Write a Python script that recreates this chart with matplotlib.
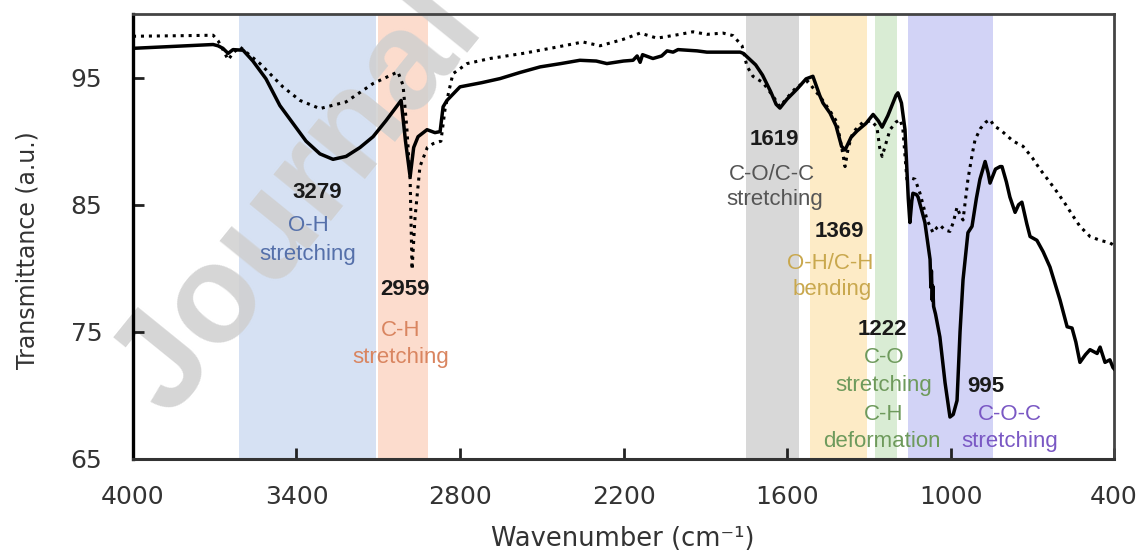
import numpy as np
import matplotlib
matplotlib.use("Agg")
import matplotlib.pyplot as plt

# ---------------- data ----------------
solid_wn = [4000, 3850, 3706, 3688, 3670, 3651, 3633, 3596, 3560, 3512, 3461, 3413, 3365, 3314,
            3266, 3218, 3167, 3119, 3072, 3016, 3000, 2983, 2970, 2954, 2921, 2892, 2873, 2862,
            2848, 2800, 2720, 2653, 2580, 2506, 2430, 2360, 2300, 2261, 2200, 2165, 2150, 2139,
            2130, 2092, 2060, 2040, 2018, 2000, 1967, 1930, 1894, 1850, 1800, 1772, 1760, 1740,
            1715, 1690, 1660, 1640, 1626, 1600, 1563, 1530, 1505, 1480, 1468, 1442, 1420, 1400,
            1387, 1365, 1343, 1310, 1284, 1265, 1251, 1230, 1200, 1193, 1180, 1167, 1155, 1149,
            1142, 1138, 1125, 1119, 1105, 1094, 1075, 1072, 1070, 1067, 1065, 1062, 1055, 1039,
            1020, 1002, 990, 976, 965, 954, 936, 921, 905, 892, 873, 862, 855, 835, 818, 811,
            795, 782, 763, 750, 738, 720, 708, 683, 660, 635, 598, 572, 554, 540, 525, 505, 488,
            462, 451, 433, 415, 404, 400]
solid_t = [97.3, 97.45, 97.6, 97.5, 97.3, 96.9, 97.2, 97.15, 96.3, 94.9, 92.8, 91.4, 90.0, 89.0,
           88.57, 88.8, 89.5, 90.35, 91.6, 93.2, 90.0, 87.2, 89.5, 90.35, 90.9, 90.67, 90.75, 92.7,
           93.2, 94.27, 94.6, 94.92, 95.4, 95.84, 96.1, 96.36, 96.3, 96.1, 96.3, 96.36, 96.7, 96.2,
           96.8, 96.5, 96.7, 97.1, 97.0, 97.2, 97.15, 97.1, 97.0, 97.0, 97.0, 97.0, 96.9, 96.5,
           96.0, 95.2, 93.9, 92.9, 92.6, 93.3, 94.1, 94.9, 95.1, 93.6, 93.0, 92.2, 91.2, 89.6,
           89.3, 90.3, 90.8, 91.4, 92.1, 91.6, 91.1, 92.0, 93.6, 93.8, 93.0, 90.9, 85.5, 83.6,
           85.3, 85.9, 85.8, 85.6, 84.5, 83.6, 80.7, 78.5, 79.8, 77.5, 78.6, 77.0, 76.4, 74.6,
           71.0, 68.3, 68.5, 69.6, 75.0, 79.1, 82.8, 83.3, 85.5, 87.0, 88.4, 87.5, 86.7, 87.8, 88.0,
           88.0, 86.8, 85.6, 84.4, 85.0, 85.2, 83.5, 82.5, 82.2, 81.3, 80.1, 77.5, 75.4, 75.3, 74.2,
           72.6, 73.2, 73.6, 73.3, 73.8, 72.6, 72.8, 72.2, 72.1]

dotted_wn = [4000, 3800, 3706, 3688, 3665, 3651, 3630, 3607, 3534, 3450, 3387, 3314, 3218, 3119,
             3028, 3009, 2995, 2983, 2976, 2965, 2947, 2920, 2899, 2884, 2870, 2855, 2840, 2826,
             2774, 2690, 2569, 2444, 2349, 2286, 2202, 2139, 2077, 1993, 1945, 1894, 1835, 1798,
             1765, 1747, 1725, 1688, 1650, 1626, 1600, 1563, 1523, 1505, 1472, 1440, 1417, 1395,
             1387, 1375, 1358, 1321, 1290, 1270, 1260, 1251, 1240, 1222, 1200, 1185, 1175, 1160,
             1145, 1130, 1112, 1086, 1064, 1050, 1039, 1020, 1002, 990, 976, 965, 954, 936, 920,
             910, 890, 870, 855, 840, 818, 807, 770, 734, 700, 672, 640, 609, 580, 550, 525, 488,
             451, 415, 400]
dotted_t = [98.25, 98.3, 98.33, 97.9, 97.0, 96.4, 97.0, 97.4, 96.1, 94.27, 93.2, 92.56, 93.09, 94.53,
            95.45, 94.4, 91.0, 87.0, 79.9, 84.0, 88.0, 89.5, 89.8, 89.9, 90.0, 92.5, 94.0, 95.3,
            96.1, 96.5, 96.9, 97.4, 97.8, 97.5, 98.0, 98.5, 98.1, 98.4, 98.6, 98.4, 98.5, 98.3,
            97.5, 95.9, 95.1, 94.6, 93.5, 92.7, 93.4, 94.3, 94.7, 94.2, 93.3, 92.3, 91.5, 89.0,
            88.0, 89.5, 90.7, 91.5, 91.6, 91.1, 89.5, 88.8, 89.6, 90.9, 91.5, 91.7, 91.0, 87.0,
            87.1, 87.0, 85.9, 83.8, 82.8, 83.2, 83.4, 83.0, 82.9, 83.6, 84.8, 84.2, 83.8, 87.0, 89.0,
            90.1, 91.0, 91.5, 91.7, 91.2, 90.9, 90.7, 90.0, 89.6, 88.7, 87.8, 86.9, 86.0, 85.1, 84.1,
            83.3, 82.5, 82.2, 82.0, 81.8]

# band ranges (cm-1) and colours
band_lo = [3110, 2917, 1556, 1306, 1196, 844]
band_hi = [3610, 3100, 1750, 1516, 1277, 1156]
band_colors = ["#d6e1f3", "#fcdccd", "#d8d8d8", "#fdebc6", "#d9ecd4", "#d2d3f6"]

# peak annotations: (text, wavenumber, transmittance, color, bold)
annotations = [
    ("3279", 3325, 86.0, "#1a1a1a", True),
    ("O-H", 3358, 83.35, "#5570aa", False),
    ("stretching", 3358, 81.1, "#5570aa", False),
    ("2959", 3002, 78.3, "#1a1a1a", True),
    ("C-H", 3017, 75.1, "#d98560", False),
    ("stretching", 3017, 73.0, "#d98560", False),
    ("1619", 1648, 90.1, "#1a1a1a", True),
    ("C-O/C-C", 1655, 87.4, "#555555", False),
    ("stretching", 1645, 85.4, "#555555", False),
    ("1369", 1406, 82.9, "#1a1a1a", True),
    ("O-H/C-H", 1442, 80.4, "#c9a84e", False),
    ("bending", 1435, 78.3, "#c9a84e", False),
    ("1222", 1251, 75.2, "#1a1a1a", True),
    ("C-O", 1245, 72.95, "#6e9a5c", False),
    ("stretching", 1245, 70.8, "#6e9a5c", False),
    ("C-H", 1245, 68.5, "#6e9a5c", False),
    ("deformation", 1251, 66.4, "#6e9a5c", False),
    ("995", 870, 70.7, "#1a1a1a", True),
    ("C-O-C", 782, 68.5, "#7a58c4", False),
    ("stretching", 782, 66.4, "#7a58c4", False),
]

x_ticks = [4000, 3400, 2800, 2200, 1600, 1000, 400]
y_ticks = [65, 75, 85, 95]

# ---------------- figure ----------------
W, H = 1143, 553
fig = plt.figure(figsize=(W / 100, H / 100), dpi=100)
ax = fig.add_axes([133 / W, 1 - 459 / H, 981 / W, 445 / H])

for lo, hi, c in zip(band_lo, band_hi, band_colors):
    ax.axvspan(lo, hi, color=c, lw=0, zorder=0)

# watermark
ax.text(170 / W, 1 - 420 / H, "Journal Pre-proof", transform=fig.transFigure,
        fontsize=100, fontweight="bold", family="Liberation Sans", color="#cfcfcf",
        alpha=0.85, rotation=51, rotation_mode="anchor", ha="left", va="baseline",
        zorder=1, clip_on=False)

ax.plot(dotted_wn, dotted_t, color="black", lw=2.2, linestyle=(0, (1, 1.6)), zorder=3)
ax.plot(solid_wn, solid_t, color="black", lw=2.5, zorder=4, solid_joinstyle="round")

for txt, x, y, c, b in annotations:
    ax.text(x, y, txt, color=c, fontsize=16, family="Liberation Sans",
            fontweight="bold" if b else "normal", ha="center", va="center", zorder=5)

ax.set_xlim(4000, 400)
ax.set_ylim(65, 100)
ax.set_xticks(x_ticks)
ax.set_yticks(y_ticks)
ax.set_xticklabels([str(v) for v in x_ticks])
ax.set_yticklabels([str(v) for v in y_ticks])

ax.tick_params(axis="both", direction="in", length=8, width=2, colors="#222222",
               labelcolor="#333333", labelsize=18)
ax.tick_params(axis="x", pad=19)
ax.tick_params(axis="y", pad=22)
for lab in ax.get_xticklabels() + ax.get_yticklabels():
    lab.set_family("DejaVu Sans")

ax.spines["left"].set_linewidth(2.4)
ax.spines["left"].set_color("black")
ax.spines["bottom"].set_linewidth(2.2)
ax.spines["bottom"].set_color("#333333")
ax.spines["top"].set_linewidth(2.0)
ax.spines["top"].set_color("#444444")
ax.spines["right"].set_linewidth(2.0)
ax.spines["right"].set_color("#444444")

ax.set_xlabel("Wavenumber (cm\u207b\u00b9)", fontsize=18.5, family="DejaVu Sans",
              color="#333333", va="center")
ax.xaxis.set_label_coords(0.4995, (459 - 539) / 445)
ax.set_ylabel("Transmittance (a.u.)", fontsize=17, family="DejaVu Sans",
              color="#333333", va="center")
ax.yaxis.set_label_coords((28 - 133) / 981, (459 - 250) / 445)

fig.savefig("out.png", dpi=100)
